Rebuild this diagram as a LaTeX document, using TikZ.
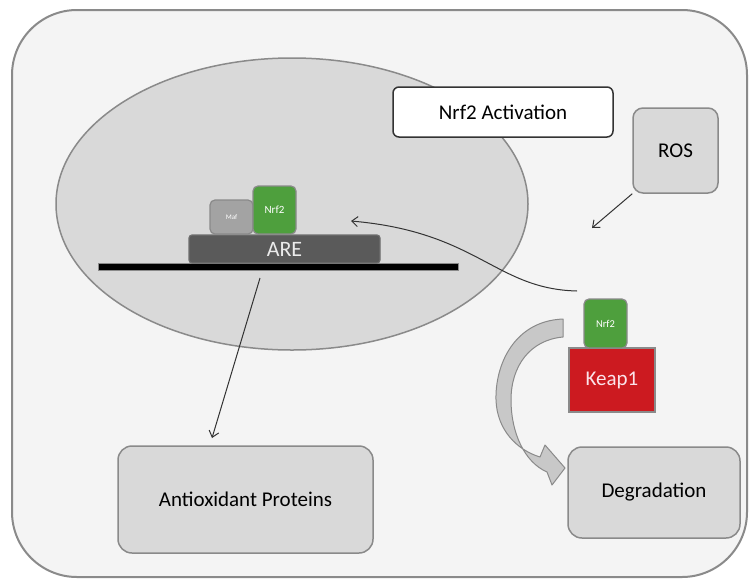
\documentclass[tikz,border=0pt]{standalone}
\usepackage{fontspec}
\setmainfont{Carlito}
\usetikzlibrary{arrows.meta,shapes.geometric}
\definecolor{bgc}{HTML}{F4F4F4}
\definecolor{boxc}{HTML}{D9D9D9}
\definecolor{edgec}{HTML}{8A8A8A}
\definecolor{greenc}{HTML}{4E9F3D}
\definecolor{redc}{HTML}{CC1A20}
\definecolor{arec}{HTML}{5A5A5A}
\definecolor{mafc}{HTML}{A3A3A3}
\definecolor{linec}{HTML}{333333}
\definecolor{keaptext}{HTML}{FBE3EA}
\begin{document}
\begin{tikzpicture}[x=1pt,y=-1pt,
  bigfont/.style={font=\fontsize{21}{25}\selectfont},
  graybox/.style={draw=edgec, line width=1.5pt, fill=boxc, rounded corners=14pt, inner sep=0pt, bigfont},
  smallbox/.style={draw=edgec, line width=1.2pt, rounded corners=5pt, inner sep=0pt, text=white},
  thinarrow/.style={draw=linec, line width=1pt, -{Straight Barb[length=6pt,width=10pt]}}
]
\useasboundingbox (0,0) rectangle (749,581);
\fill[white] (0,0) rectangle (749,581);
% cell
\node[draw=edgec, line width=2pt, fill=bgc, rounded corners=65pt, minimum width=735pt, minimum height=567pt, inner sep=0pt] (cell) at (379.5,293.5) {};
% nucleus
\node[ellipse, draw=edgec, line width=1.5pt, fill=boxc, minimum width=472pt, minimum height=292pt, inner sep=0pt] (nuc) at (292,204) {};
% activation label
\node[draw=linec, line width=1.5pt, fill=white, rounded corners=6pt, minimum width=220pt, minimum height=50pt, inner sep=0pt, bigfont] (act) at (503,112) {Nrf2 Activation};
% ROS
\node[graybox, rounded corners=10pt, minimum width=85pt, minimum height=85pt] (ros) at (675.5,150.5) {ROS};
% DNA line
\node[draw=edgec, line width=0.8pt, fill=black, minimum width=360pt, minimum height=7pt, inner sep=0pt] (dna) at (278,267) {};
% ARE
\node[draw=edgec!80!black, line width=1.2pt, fill=arec, rounded corners=3pt, minimum width=191pt, minimum height=28pt, inner sep=0pt, text=white!92!black, font=\fontsize{22}{25}\selectfont] (are) at (284.5,249) {ARE};
% Maf and Nrf2 on ARE
\node[smallbox, fill=mafc, minimum width=43pt, minimum height=34pt, font=\fontsize{7}{8}\selectfont] (maf) at (231.5,217) {Maf};
\node[smallbox, fill=greenc, minimum width=43pt, minimum height=48pt, font=\fontsize{11}{13}\selectfont] (nrfa) at (274.5,210) {Nrf2};
% Keap1 complex
\node[draw=edgec, line width=1.5pt, fill=redc, minimum width=86pt, minimum height=64pt, inner sep=0pt, text=keaptext, bigfont] (keap) at (612,380) {Keap1};
\node[smallbox, fill=greenc, minimum width=43pt, minimum height=49pt, font=\fontsize{10.5}{12}\selectfont] (nrfb) at (605.5,323.5) {Nrf2};
% outputs
\node[graybox, minimum width=255pt, minimum height=107pt] (anti) at (245.5,499.5) {Antioxidant Proteins};
\node[graybox, minimum width=172pt, minimum height=91pt] (degr) at (654,492.5) {Degradation};
% connector end points
\coordinate (rosend) at (592,228);
\coordinate (cstart) at (577,291);
\coordinate (cend) at (351,221);
\coordinate (astart) at (260,278);
\coordinate (aend) at (212,438);
% connectors
\draw[thinarrow] (ros.south west) -- (rosend);
\draw[thinarrow] (cstart) .. controls (495,289) and (478,232) .. (cend);
\draw[thinarrow] (astart) -- (aend);
% big curved degradation arrow
\draw[draw=edgec, line width=1pt, fill=boxc!92!black, line join=round]
  (563,319) .. controls (514,321) and (495,365) .. (496,400)
  .. controls (497,430) and (517,450) .. (540,457)
  -- (545,445) -- (565,468) -- (552,485) -- (547,472)
  .. controls (524,462) and (511,432) .. (511,400)
  .. controls (511,366) and (530,340) .. (563,337) -- cycle;
\end{tikzpicture}
\end{document}
